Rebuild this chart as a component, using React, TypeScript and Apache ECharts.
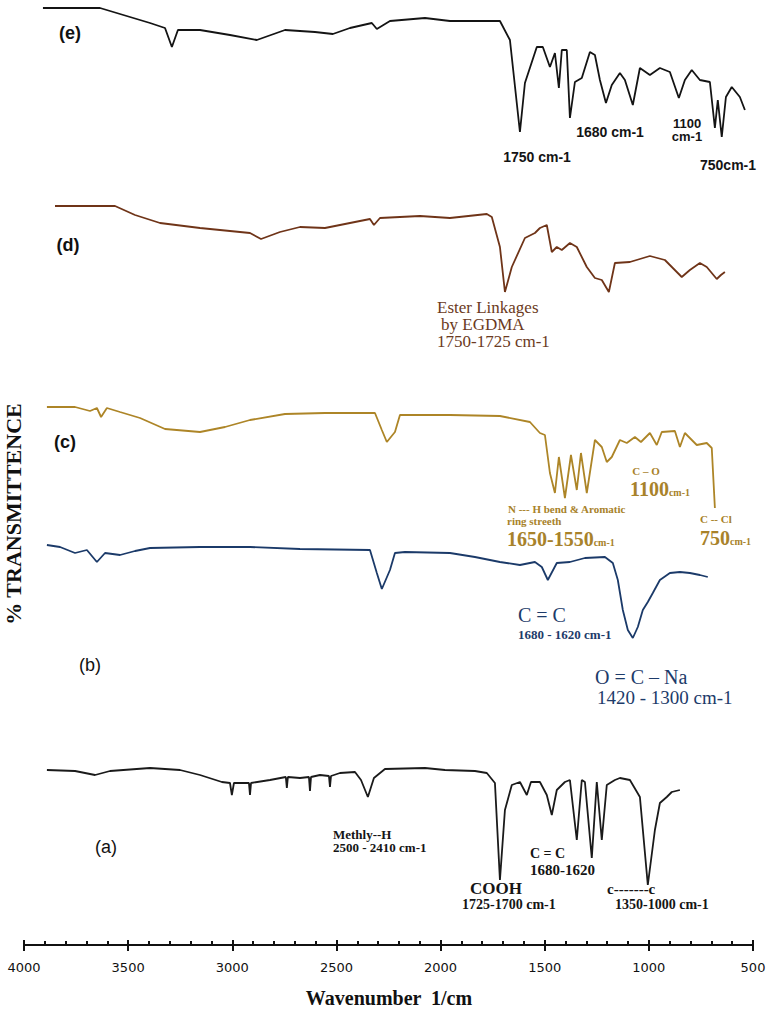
import React, { useEffect, useRef } from "react";
import * as echarts from "echarts";

// ---------- DATA (wavenumber in 1/cm, stacked % transmittance offset units) ----------
const traceE_wn = [3909,3635,3395,3323,3290,3261,3155,3011,2882,2747,2603,2517,2435,2330,2306,2243,2075,1955,1835,1715,1667,1619,1595,1538,1509,1475,1451,1432,1418,1394,1379,1355,1322,1283,1259,1235,1206,1178,1139,1115,1077,1043,995,947,899,856,827,794,755,707,683,669,650,630,602,563,539];
const traceE_t = [937,937,922,917,898,915,915,910,905,915,913,911,917,922,916,924,927,924,924,924,905,813,862,898,898,878,892,857,895,895,827,863,867,893,890,865,842,860,872,865,840,877,870,877,873,847,865,875,865,863,817,845,808,848,858,848,835];

const traceD_wn = [3851,3563,3467,3347,3155,2915,2862,2771,2675,2555,2435,2339,2320,2291,2099,1955,1778,1754,1715,1691,1658,1595,1547,1523,1490,1466,1442,1418,1379,1346,1298,1259,1226,1192,1163,1091,995,923,842,803,755,722,674,654,635];
const traceD_t = [739,739,730,722,717,712,706,713,718,717,722,726,720,727,729,727,731,728,698,653,678,707,712,717,720,693,698,695,702,698,678,667,665,653,682,683,689,685,668,675,682,678,666,670,673];

const traceC_wn = [3890,3755,3683,3650,3630,3602,3539,3443,3323,3155,3035,2915,2747,2555,2315,2282,2258,2219,2195,1955,1715,1571,1523,1499,1475,1451,1432,1403,1374,1346,1326,1298,1259,1226,1202,1178,1139,1106,1067,1038,995,962,938,875,851,827,770,722,698,683];
const traceC_t = [538,538,534,537,528,537,533,527,516,513,518,525,531,532,532,515,503,513,530,530,529,523,512,510,472,452,488,447,490,455,492,452,505,498,483,488,505,502,508,503,512,500,513,514,498,512,500,502,497,437];

const traceB_wn = [3890,3827,3755,3698,3650,3611,3539,3467,3395,3155,2915,2675,2339,2306,2282,2243,2219,2171,1955,1835,1715,1619,1547,1514,1485,1442,1379,1307,1211,1173,1149,1125,1101,1077,1053,1029,1005,981,947,899,851,803,755,717];
const traceB_t = [400,398,392,395,383,392,390,394,397,398,398,396,395,372,356,375,392,393,392,388,383,380,383,378,365,382,383,387,388,382,365,335,315,307,318,335,343,352,365,372,373,372,370,368];

const traceA_wn = [3890,3755,3659,3587,3395,3251,3155,3050,3011,3002,2992,2920,2915,2910,2819,2743,2738,2733,2675,2632,2627,2622,2579,2536,2531,2526,2483,2411,2382,2349,2320,2267,2075,1979,1835,1778,1739,1715,1691,1658,1619,1586,1566,1523,1490,1466,1442,1403,1379,1346,1322,1307,1274,1250,1226,1202,1163,1139,1091,1043,1005,971,947,914,890,851];
const traceA_t = [175,174,170,174,177,175,170,163,162,150,162,162,150,162,165,168,157,168,167,168,154,168,170,169,158,169,172,173,165,148,167,176,177,175,174,172,162,65,135,160,163,150,163,163,150,130,155,163,165,105,165,163,87,163,105,160,165,167,165,148,60,115,142,148,153,155];

const X_MIN = 500;
const X_MAX = 4000;
const X_STEP = 500;
const Y_MAX = 945;

const traceNames = ["(e)", "(d)", "(c)", "(b)", "(a)"];
const traceColors = ["#141414", "#6f3418", "#ad8527", "#1b3a69", "#1a1a1a"];

const zip = (xs: number[], ys: number[]) => xs.map((x, i) => [x, ys[i]]);

const SERIF = "'Liberation Serif', 'Times New Roman', serif";
const SANS = "'Liberation Sans', Arial, sans-serif";

function txt(x: number, y: number, text: string, font: string, fill: string, align = "left") {
  return {
    type: "text",
    x,
    y,
    silent: true,
    style: { text, font, fill, textAlign: align, textVerticalAlign: "middle" },
  };
}

function richTxt(x: number, y: number, big: string, small: string, bigSize: number, smallSize: number, fill: string) {
  return {
    type: "text",
    x,
    y,
    silent: true,
    style: {
      text: `{b|${big}}{s|${small}}`,
      textAlign: "left",
      textVerticalAlign: "middle",
      fill,
      rich: {
        b: { fontFamily: SERIF, fontSize: bigSize, fontWeight: "bold", fill, verticalAlign: "bottom" },
        s: { fontFamily: SERIF, fontSize: smallSize, fontWeight: "bold", fill, verticalAlign: "bottom", padding: [0, 0, 2, 0] },
      },
    },
  };
}

export default function App() {
  const ref = useRef<HTMLDivElement>(null);

  useEffect(() => {
    if (!ref.current) return;
    const chart = echarts.init(ref.current, null, { renderer: "svg" });

    const datasets = [
      zip(traceE_wn, traceE_t),
      zip(traceD_wn, traceD_t),
      zip(traceC_wn, traceC_t),
      zip(traceB_wn, traceB_t),
      zip(traceA_wn, traceA_t),
    ];

    const cE = traceColors[0];
    const cD = "#6b3a22";
    const cC = "#a8822a";
    const cB = "#1d3b6a";
    const cA = "#151515";

    const option: any = {
      animation: false,
      backgroundColor: "#ffffff",
      grid: { left: 24, right: 26, top: 0, bottom: 64 },
      xAxis: [
        {
          type: "value",
          min: X_MIN,
          max: X_MAX,
          interval: X_STEP,
          inverse: true,
          position: "bottom",
          axisLine: { show: true, lineStyle: { color: "#111", width: 2 } },
          axisTick: { show: true, inside: true, length: 5, lineStyle: { color: "#111", width: 2 } },
          minorTick: { show: true, splitNumber: 5, length: 4, lineStyle: { color: "#111", width: 2 } },
          splitLine: { show: false },
          axisLabel: {
            show: true,
            margin: 16,
            color: "#111",
            fontFamily: "'DejaVu Sans', Verdana, sans-serif",
            fontSize: 13,
            formatter: (v: number) => String(v),
          },
        },
        {
          type: "value",
          min: X_MIN,
          max: X_MAX,
          interval: X_STEP,
          inverse: true,
          position: "bottom",
          axisLine: { show: false },
          axisTick: { show: true, inside: false, length: 6, lineStyle: { color: "#111", width: 2 } },
          minorTick: { show: false },
          splitLine: { show: false },
          axisLabel: { show: false },
        },
      ],
      yAxis: { type: "value", min: 0, max: Y_MAX, show: false },
      series: datasets.map((d, i) => ({
        name: traceNames[i],
        type: "line",
        xAxisIndex: 0,
        data: d,
        showSymbol: false,
        smooth: false,
        lineStyle: { color: traceColors[i], width: 1.8 },
        itemStyle: { color: traceColors[i] },
      })),
      graphic: [
        // y-axis title
        {
          type: "text",
          x: 13,
          y: 514,
          rotation: Math.PI / 2,
          silent: true,
          style: {
            text: "% TRANSMITTENCE",
            font: `bold 22px ${SERIF}`,
            fill: "#111",
            textAlign: "center",
            textVerticalAlign: "middle",
          },
        },
        // x-axis title
        txt(389, 998, "Wavenumber  1/cm", `bold 20px ${SERIF}`, "#111", "center"),

        // trace labels
        txt(70, 33, "(e)", `bold 18px ${SANS}`, "#111", "center"),
        txt(68, 245, "(d)", `bold 18px ${SANS}`, "#111", "center"),
        txt(65, 442, "(c)", `bold 18px ${SANS}`, "#111", "center"),
        txt(90, 665, "(b)", `18px ${SANS}`, "#111", "center"),
        txt(106, 847, "(a)", `18px ${SANS}`, "#111", "center"),

        // (e) annotations
        txt(537, 157, "1750 cm-1", `bold 14px ${SANS}`, cE, "center"),
        txt(610, 132, "1680 cm-1", `bold 14px ${SANS}`, cE, "center"),
        txt(687, 123, "1100", `bold 13px ${SANS}`, cE, "center"),
        txt(687, 136, "cm-1", `bold 13px ${SANS}`, cE, "center"),
        txt(728, 165, "750cm-1", `bold 14px ${SANS}`, cE, "center"),

        // (d) annotations
        txt(437, 307, "Ester Linkages", `17px ${SERIF}`, cD),
        txt(441, 324, "by EGDMA", `17px ${SERIF}`, cD),
        txt(437, 341, "1750-1725 cm-1", `17px ${SERIF}`, cD),

        // (c) annotations
        txt(646, 471, "C – O", `bold 11px ${SERIF}`, cC, "center"),
        richTxt(630, 489, "1100", "cm-1", 20, 10, cC),
        txt(508, 509, "N --- H bend & Aromatic", `bold 11px ${SERIF}`, cC),
        txt(507, 521, "ring streeth", `bold 11px ${SERIF}`, cC),
        richTxt(507, 539, "1650-1550", "cm-1", 20, 10, cC),
        txt(700, 519, "C -- Cl", `bold 11px ${SERIF}`, cC),
        richTxt(700, 538, "750", "cm-1", 20, 10, cC),

        // (b) annotations
        txt(518, 615, "C = C", `20px ${SERIF}`, cB),
        txt(518, 634, "1680 - 1620 cm-1", `bold 13px ${SERIF}`, cB),
        txt(595, 677, "O = C – Na", `20px ${SERIF}`, cB),
        txt(597, 697, "1420 - 1300 cm-1", `19px ${SERIF}`, cB),

        // (a) annotations
        txt(333, 834, "Methly--H", `bold 13px ${SERIF}`, cA),
        txt(333, 847, "2500 - 2410 cm-1", `bold 13px ${SERIF}`, cA),
        txt(530, 853, "C = C", `bold 14px ${SERIF}`, cA),
        txt(530, 870, "1680-1620", `bold 15px ${SERIF}`, cA),
        txt(470, 888, "COOH", `bold 17px ${SERIF}`, cA),
        txt(462, 904, "1725-1700 cm-1", `bold 14px ${SERIF}`, cA),
        txt(607, 889, "c-------c", `bold 15px ${SERIF}`, cA),
        txt(615, 904, "1350-1000 cm-1", `bold 14px ${SERIF}`, cA),
      ],
    };

    chart.setOption(option);
    return () => chart.dispose();
  }, []);

  return (
    <div
      ref={ref}
      style={{ position: "absolute", left: 0, top: 0, width: 779, height: 1009, background: "#fff" }}
    />
  );
}
